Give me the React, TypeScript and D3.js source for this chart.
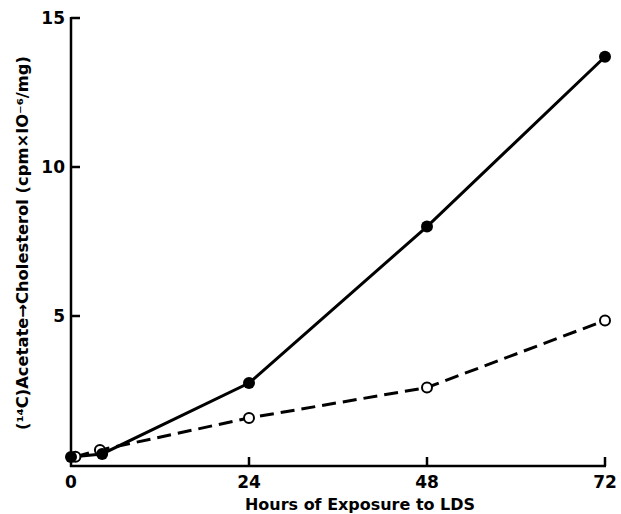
import React from "react";
import * as d3 from "d3";

const hoursFilled = [0, 4.2, 24, 48, 72];
const valuesFilled = [0.27, 0.37, 2.75, 8.0, 13.7];
const hoursOpen = [0.6, 3.9, 24, 48, 72];
const valuesOpen = [0.28, 0.5, 1.58, 2.6, 4.85];
const xTicks = [0, 24, 48, 72];
const yTicks = [5, 10, 15];
const xTitle = "Hours of Exposure to LDS";
const yTitle = "(\u00B9\u2074C)Acetate\u2192Cholesterol (cpm\u00D7IO\u207B\u2076/mg)";

export default function App() {
  const W = 621, H = 514;
  const x = d3.scaleLinear().domain([0, 72]).range([71, 605]);
  const y = d3.scaleLinear().domain([0, 15]).range([465, 18]);
  const line = d3.line<[number, number]>().x(d => x(d[0])).y(d => y(d[1]));
  const filled: [number, number][] = hoursFilled.map((h, i) => [h, valuesFilled[i]]);
  const open: [number, number][] = hoursOpen.map((h, i) => [h, valuesOpen[i]]);
  const font = "'DejaVu Sans', 'Liberation Sans', Arial, sans-serif";
  const axisY = 466;
  const axisX = 71;
  return (
    <svg width={W} height={H} style={{ position: "absolute", left: 0, top: 0, background: "#fff" }} fontFamily={font}>
      <rect x={0} y={0} width={W} height={H} fill="#fff" />
      {/* axes */}
      <line x1={axisX} x2={axisX} y1={y(15) - 1} y2={axisY + 1} stroke="#000" strokeWidth={2.5} />
      <line x1={axisX - 1} x2={x(72) + 1} y1={axisY} y2={axisY} stroke="#000" strokeWidth={2.5} />
      {yTicks.map(t => (
        <g key={"y" + t}>
          <line x1={axisX} x2={axisX + 9} y1={y(t)} y2={y(t)} stroke="#000" strokeWidth={2.5} />
          <text x={axisX - 6} y={y(t) + 6} textAnchor="end" fontSize={17} fontWeight="bold">{t}</text>
        </g>
      ))}
      {xTicks.map(t => (
        <g key={"x" + t}>
          {t > 0 && <line x1={x(t)} x2={x(t)} y1={axisY} y2={axisY - 9} stroke="#000" strokeWidth={2.5} />}
          <text x={x(t)} y={488} textAnchor="middle" fontSize={17} fontWeight="bold">{t}</text>
        </g>
      ))}
      <text x={360} y={510} textAnchor="middle" fontSize={16} fontWeight="bold"
        textLength={230} lengthAdjust="spacingAndGlyphs">{xTitle}</text>
      <text transform={`translate(28,243) rotate(-90)`} textAnchor="middle" fontSize={16} fontWeight="bold"
        textLength={374} lengthAdjust="spacingAndGlyphs">{yTitle}</text>
      {/* lines */}
      <path d={line(open) || ""} fill="none" stroke="#000" strokeWidth={3} strokeDasharray="14,7" />
      <path d={line(filled) || ""} fill="none" stroke="#000" strokeWidth={3} />
      {open.map((d, i) => (
        <circle key={"o" + i} cx={x(d[0])} cy={y(d[1])} r={5} fill="#fff" stroke="#000" strokeWidth={2} />
      ))}
      {filled.map((d, i) => (
        <circle key={"f" + i} cx={x(d[0])} cy={y(d[1])} r={6} fill="#000" />
      ))}
    </svg>
  );
}
